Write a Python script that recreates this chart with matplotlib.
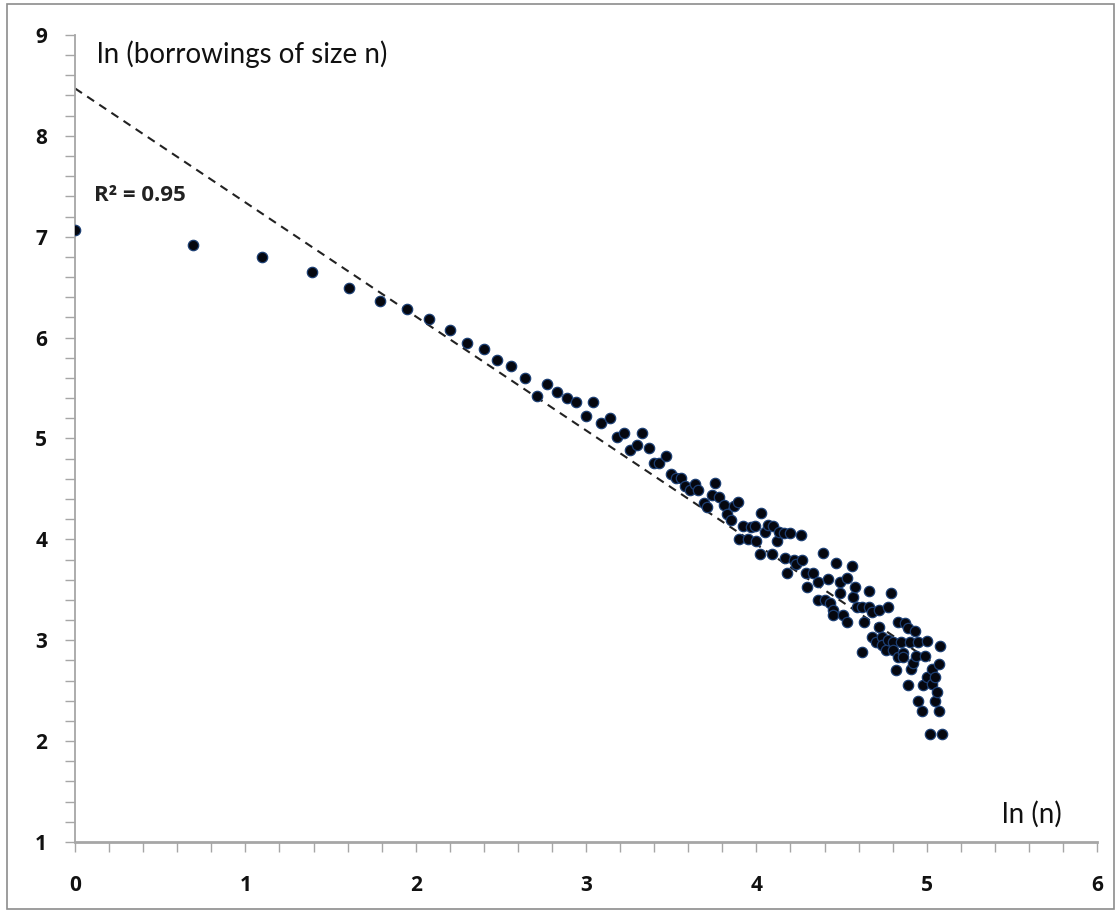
import numpy as np
import matplotlib
matplotlib.use("Agg")
import matplotlib.pyplot as plt
from matplotlib.patches import Rectangle
from matplotlib.ticker import MultipleLocator

plt.rcParams['font.family'] = ['Lato', 'DejaVu Sans']

# ln(n)
ln_n = [
    0.00, 0.69, 1.10, 1.39, 1.61, 1.79, 1.95, 2.08, 2.20, 2.30,
    2.40, 2.48, 2.56, 2.64, 2.71, 2.77, 2.83, 2.89, 2.94, 3.00,
    3.04, 3.09, 3.14, 3.18, 3.22, 3.26, 3.30, 3.33, 3.37, 3.40,
    3.43, 3.47, 3.50, 3.53, 3.56, 3.58, 3.61, 3.64, 3.66, 3.69,
    3.71, 3.74, 3.76, 3.78, 3.81, 3.83, 3.85, 3.87, 3.89,
    3.90, 3.92, 3.95, 3.97, 3.99, 4.00, 4.02, 4.03, 4.05, 4.07,
    4.09, 4.10, 4.12, 4.13, 4.16, 4.17, 4.18, 4.20, 4.22, 4.23,
    4.26, 4.27, 4.29, 4.30, 4.33, 4.36, 4.36, 4.39, 4.40, 4.42,
    4.43, 4.45, 4.45, 4.47, 4.49, 4.49, 4.51, 4.53, 4.53, 4.56,
    4.57, 4.58, 4.59, 4.62, 4.62, 4.63, 4.66, 4.66, 4.68, 4.68,
    4.70, 4.72, 4.72, 4.74, 4.74, 4.76, 4.77, 4.77, 4.79, 4.80,
    4.80, 4.82, 4.83, 4.83, 4.85, 4.86, 4.86, 4.87, 4.89, 4.89,
    4.90, 4.91, 4.93, 4.92, 4.94, 4.95, 4.95, 4.97, 4.98, 4.99,
    5.00, 5.00, 5.03, 5.03, 5.02, 5.05, 5.05, 5.06, 5.07, 5.07,
    5.08, 5.09,
]
# ln(borrowings of size n)
ln_count = [
    7.07, 6.92, 6.80, 6.65, 6.49, 6.36, 6.28, 6.18, 6.08, 5.95,
    5.89, 5.78, 5.72, 5.60, 5.42, 5.54, 5.46, 5.40, 5.36, 5.22,
    5.36, 5.15, 5.20, 5.01, 5.05, 4.89, 4.94, 5.05, 4.91, 4.76,
    4.76, 4.83, 4.65, 4.61, 4.61, 4.53, 4.49, 4.55, 4.49, 4.36,
    4.32, 4.44, 4.56, 4.42, 4.34, 4.25, 4.19, 4.33, 4.37,
    4.00, 4.13, 4.00, 4.12, 4.13, 3.98, 3.85, 4.26, 4.07, 4.14,
    3.85, 4.13, 3.98, 4.07, 4.06, 3.82, 3.67, 4.06, 3.80, 3.76,
    4.04, 3.80, 3.67, 3.53, 3.67, 3.40, 3.58, 3.86, 3.40, 3.61,
    3.37, 3.30, 3.25, 3.77, 3.58, 3.47, 3.25, 3.18, 3.62, 3.74,
    3.43, 3.53, 3.33, 3.33, 2.88, 3.18, 3.49, 3.33, 3.28, 3.03,
    2.98, 3.30, 3.13, 3.03, 2.95, 2.90, 3.33, 3.00, 3.47, 2.98,
    2.90, 2.70, 2.83, 3.18, 2.98, 2.87, 2.83, 3.17, 3.12, 2.56,
    2.98, 2.71, 3.09, 2.77, 2.84, 2.98, 2.40, 2.30, 2.56, 2.84,
    2.99, 2.64, 2.71, 2.57, 2.07, 2.64, 2.40, 2.49, 2.76, 2.30,
    2.94, 2.07,
]

trend_intercept = 8.47
trend_slope = -1.13
r2_label = "R² = 0.95"
y_title = "ln (borrowings of size n)"
x_title = "ln (n)"

fig = plt.figure(figsize=(11.2, 9.13), dpi=100)
fig.patches.append(Rectangle((0.006, 0.004), 0.989, 0.992, transform=fig.transFigure,
                             fill=False, edgecolor='#8c8c8c', linewidth=1.2))
ax = fig.add_axes([0.067, 0.0778, 0.9125, 0.8839])

ax.set_xlim(0, 6)
ax.set_ylim(1, 9)

x_arr = np.array(ln_n)
tx = np.array([0, x_arr.max()])
ax.plot(tx, trend_intercept + trend_slope * tx, color='#222222', lw=1.5,
        linestyle=(0, (4, 3)), zorder=2)

ax.scatter(ln_n, ln_count, s=56, facecolor='#05070f', edgecolor='#1d3f73',
           linewidths=0.9, zorder=3)

for side in ['top', 'right']:
    ax.spines[side].set_visible(False)
ax.spines['left'].set_color('#a6a6a6')
ax.spines['left'].set_linewidth(1.3)
ax.spines['bottom'].set_color('#a6a6a6')
ax.spines['bottom'].set_linewidth(2.0)

ax.xaxis.set_major_locator(MultipleLocator(1))
ax.xaxis.set_minor_locator(MultipleLocator(0.2))
ax.yaxis.set_major_locator(MultipleLocator(1))
ax.yaxis.set_minor_locator(MultipleLocator(0.2))

ax.tick_params(axis='both', which='both', direction='out', length=7,
               width=1, color='#a6a6a6')
ax.tick_params(axis='y', which='major', pad=13, labelsize=15)
ax.tick_params(axis='x', which='major', pad=17, labelsize=15)
for lab in ax.get_xticklabels() + ax.get_yticklabels():
    lab.set_fontweight('bold')
    lab.set_color('#111111')
    lab.set_family(['Open Sans', 'DejaVu Sans'])

ax.text(0.13, 8.81, y_title, fontsize=20, color='#111111', va='center', ha='left')
ax.text(5.44, 1.27, x_title, fontsize=20, color='#111111', va='center', ha='left')
ax.text(0.11, 7.41, r2_label, fontsize=16, fontweight='bold', color='#222222',
        va='center', ha='left', family=['Open Sans', 'DejaVu Sans'])

fig.savefig('out.png', dpi=100)
